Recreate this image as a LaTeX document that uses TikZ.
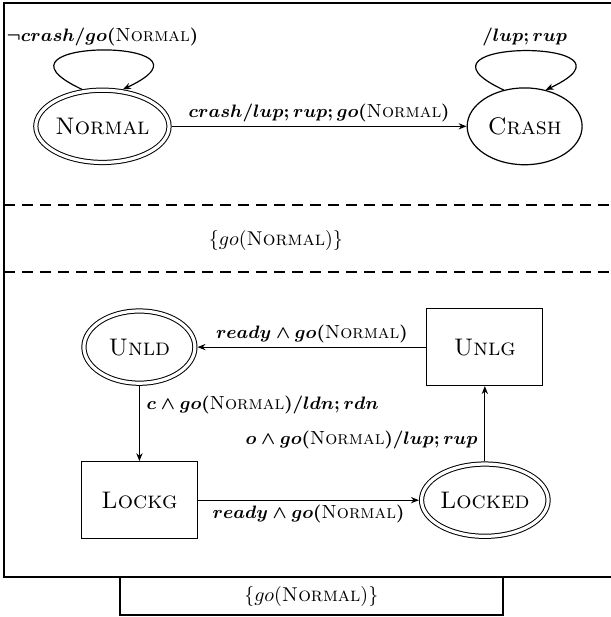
\documentclass[tikz,border=0pt]{standalone}
\usepackage{amsmath,amssymb}
\usepackage{tikz}
\usetikzlibrary{arrows.meta,shapes.geometric}
\newcommand{\ev}[1]{{\fontsize{9.5}{11}\selectfont\boldmath$#1$}}
\newcommand{\nrm}{\textsc{Normal}}

\begin{document}
\begin{tikzpicture}[line width=0.6pt,
  st/.style={draw, ellipse, inner sep=0pt, minimum width=2.02cm, minimum height=1.35cm, font=\fontsize{12}{14}\selectfont},
  fin/.style={st, double, double distance=1.6pt, line width=0.5pt, outer sep=1.3pt, minimum width=1.95cm, minimum height=1.27cm},
  box/.style={draw, rectangle, inner sep=0pt, minimum width=2.04cm, minimum height=1.35cm, font=\fontsize{12}{14}\selectfont},
  arr/.style={-{Stealth[length=1.4mm, width=1.1mm]}},
  lbl/.style={inner sep=2pt},
  frm/.style={line width=0.8pt},
  sep/.style={dash pattern=on 5.5pt off 3.5pt, line width=0.7pt}]
  \useasboundingbox (0,0) rectangle (10.737,-10.843);
  % outer frame and the two cuts
  \draw[frm] (11,-0.05) -- (0.07,-0.05) -- (0.07,-10.14) -- (11,-10.14);
  \draw[sep] (0.07,-3.60) -- (11,-3.60);
  \draw[sep] (0.07,-4.78) -- (11,-4.78);
  \node (mid) at (4.85,-4.22) {$\{go(\nrm)\}$};
  \node[draw, frm, inner sep=0pt, minimum width=6.73cm, minimum height=0.67cm] (out) at (5.47,-10.475) {$\{go(\nrm)\}$};
  % upper machine
  \node[fin] (nrm) at (1.80,-2.22) {\nrm};
  \node[st] (crs) at (9.22,-2.22) {\textsc{Crash}};
  \draw[arr] (nrm.119) .. controls +(155:2.17) and +(25:2.17) .. node[above, lbl] {\ev{\neg crash/go(\nrm)}} (nrm.61);
  \draw[arr] (crs.120) .. controls +(155:2.17) and +(25:2.17) .. node[above, lbl] {\ev{/lup; rup}} (crs.60);
  \draw[arr] (nrm) -- node[above, lbl] {\ev{crash/lup; rup; go(\nrm)}} (crs);
  % lower machine
  \node[fin] (unld) at (2.45,-6.10) {\textsc{Unld}};
  \node[box] (unlg) at (8.52,-6.10) {\textsc{Unlg}};
  \node[box] (lockg) at (2.45,-8.79) {\textsc{Lockg}};
  \node[fin] (lkd) at (8.52,-8.79) {\textsc{Locked}};
  \draw[arr] (unlg) -- node[above, lbl] {\ev{ready \wedge go(\nrm)}} (unld);
  \draw[arr] (unld) -- node[pos=0.26, right] {\ev{c \wedge go(\nrm)/ldn; rdn}} (lockg);
  \draw[arr] (lockg) -- node[below, lbl] {\ev{ready \wedge go(\nrm)}} (lkd);
  \draw[arr] (lkd) -- node[pos=0.29, left] {\ev{o \wedge go(\nrm)/lup; rup}} (unlg);
\end{tikzpicture}
\end{document}
